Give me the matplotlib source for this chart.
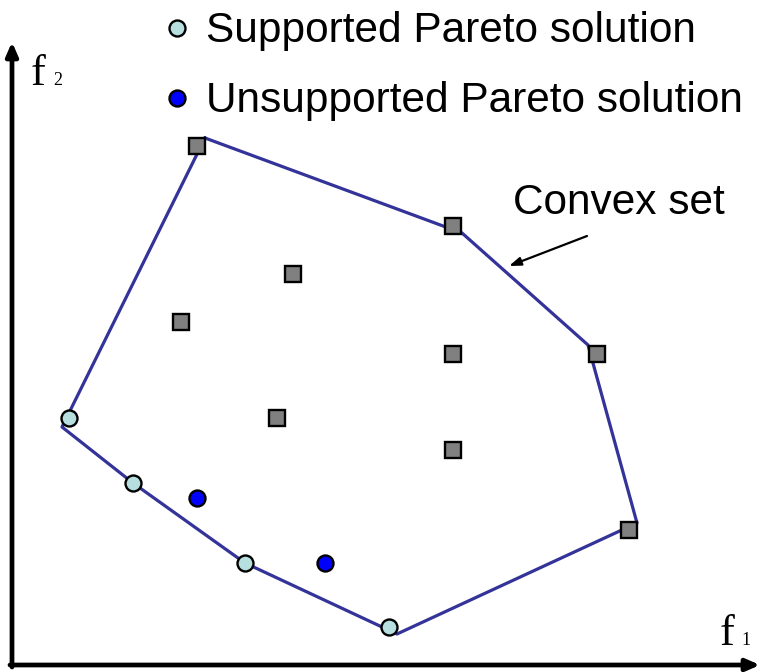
import matplotlib
matplotlib.use("Agg")
import matplotlib.pyplot as plt

# Data in pixel-like units (f1 to the right, f2 measured from top of image)
sq_f1 = [197, 453, 293, 181, 453, 597, 277, 453, 629]
sq_f2 = [146, 226, 274, 322, 354, 354, 418, 450, 530]
sup_f1 = [69, 133, 245, 389]
sup_f2 = [418, 483, 563, 627]
uns_f1 = [197, 325]
uns_f2 = [498, 563]
hull_f1 = [205, 462, 588, 637, 397, 245, 133, 62, 205]
hull_f2 = [138, 233, 345, 523, 634, 563, 483, 427, 138]

W, H = 760, 672
fig = plt.figure(figsize=(W / 100, H / 100), dpi=100)
ax = fig.add_axes([0, 0, 1, 1])
ax.set_xlim(0, W)
ax.set_ylim(H, 0)
ax.axis("off")

# axes arrows
ax.annotate("", xy=(12, 42), xytext=(12, 667),
            arrowprops=dict(arrowstyle="-|>,head_length=0.8,head_width=0.35", lw=3.4, color="black",
                            shrinkA=0, shrinkB=0))
ax.annotate("", xy=(760, 665), xytext=(10, 665),
            arrowprops=dict(arrowstyle="-|>,head_length=0.8,head_width=0.35", lw=3.4, color="black",
                            shrinkA=0, shrinkB=0))

serif = ["Liberation Serif", "DejaVu Serif"]
ax.text(31, 85, "f", fontsize=32, family=serif, ha="left", va="baseline")
ax.text(53, 85, "2", fontsize=13, family=serif, ha="left", va="baseline")
ax.text(720, 645, "f", fontsize=32, family=serif, ha="left", va="baseline")
ax.text(741, 645, "1", fontsize=13, family=serif, ha="left", va="baseline")

# convex hull
ax.plot(hull_f1, hull_f2, color="#333399", lw=2.3, zorder=2)

ax.plot(sq_f1, sq_f2, ls="none", marker="s", ms=11.5, mfc="#808080", mec="black", mew=1.7, zorder=3)
ax.plot(sup_f1, sup_f2, ls="none", marker="o", ms=11.5, mfc="#b8dfe0", mec="black", mew=1.7, zorder=3)
ax.plot(uns_f1, uns_f2, ls="none", marker="o", ms=11.5, mfc="#0000ff", mec="black", mew=1.7, zorder=3)

# legend
sans = ["Liberation Sans", "DejaVu Sans"]
ax.plot([177], [28], ls="none", marker="o", ms=11.5, mfc="#b8dfe0", mec="black", mew=1.7)
ax.plot([177], [98], ls="none", marker="o", ms=11.5, mfc="#0000ff", mec="black", mew=1.7)
ax.text(206, 42, "Supported Pareto solution", fontsize=30.5, family=sans, ha="left", va="baseline")
ax.text(206, 112, "Unsupported Pareto solution", fontsize=30.5, family=sans, ha="left", va="baseline")

ax.text(513, 214, "Convex set", fontsize=30.5, family=sans, ha="left", va="baseline")
ax.annotate("", xy=(509, 266), xytext=(587, 236),
            arrowprops=dict(arrowstyle="-|>,head_length=0.7,head_width=0.25", lw=1.6, color="black",
                            shrinkA=0, shrinkB=0))

fig.savefig("out.png", dpi=100)
